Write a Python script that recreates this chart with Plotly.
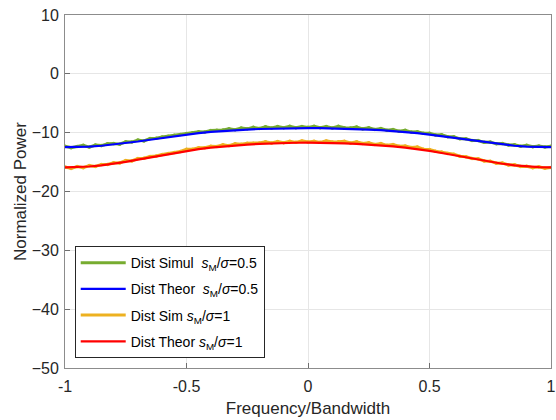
import numpy as np
import plotly.graph_objects as go

# Theoretical curves, x step 0.05 from -1 to 1
theor_x = np.linspace(-1, 1, 41)
theor_05 = [-12.45, -12.43, -12.36, -12.22, -12.02, -11.78, -11.5, -11.2, -10.9, -10.6,
            -10.32, -10.08, -9.88, -9.72, -9.58, -9.47, -9.38, -9.32, -9.27, -9.24,
            -9.23,
            -9.24, -9.27, -9.32, -9.38, -9.47, -9.58, -9.72, -9.88, -10.08, -10.32,
            -10.6, -10.9, -11.2, -11.5, -11.78, -12.02, -12.22, -12.36, -12.43, -12.45]
theor_1 = [-15.9, -15.87, -15.75, -15.55, -15.28, -14.95, -14.58, -14.2, -13.82, -13.45,
           -13.1, -12.8, -12.55, -12.34, -12.16, -12.02, -11.9, -11.81, -11.75, -11.71,
           -11.7,
           -11.71, -11.75, -11.81, -11.9, -12.02, -12.16, -12.34, -12.55, -12.8, -13.1,
           -13.45, -13.82, -14.2, -14.58, -14.95, -15.28, -15.55, -15.75, -15.87, -15.9]

# Simulated curves (noisy), x step 0.025
sim_05 = [-12.3, -12.55, -12.35, -12.15, -12.45, -12.1, -12.2, -11.9, -11.85, -11.95,
          -11.55, -11.6, -11.25, -11.4, -11.0, -10.95, -10.75, -10.6, -10.45, -10.3,
          -10.15, -10.0, -9.85, -9.9, -9.65, -9.6, -9.55, -9.35, -9.5, -9.2,
          -9.35, -9.1, -9.3, -9.0, -9.2, -8.95, -9.15, -8.9, -9.15, -8.95,
          -9.1,
          -8.9, -9.15, -8.95, -9.2, -8.9, -9.15, -9.2, -9.05, -9.35, -9.15,
          -9.45, -9.3, -9.6, -9.45, -9.75, -9.6, -9.9, -9.85, -10.1, -10.1,
          -10.4, -10.35, -10.7, -10.7, -11.05, -11.05, -11.35, -11.35, -11.65, -11.6,
          -11.9, -11.85, -12.1, -12.05, -12.3, -12.15, -12.4, -12.25, -12.45, -12.3]
sim_1 = [-15.85, -16.1, -15.75, -15.95, -15.6, -15.75, -15.4, -15.4, -15.1, -15.15,
         -14.75, -14.8, -14.4, -14.35, -14.05, -13.95, -13.7, -13.55, -13.35, -13.2,
         -12.8, -12.8, -12.55, -12.55, -12.3, -12.35, -12.05, -12.2, -11.9, -11.95,
         -11.8, -11.8, -11.75, -11.55, -11.75, -11.5, -11.7, -11.45, -11.65, -11.4,
         -11.6,
         -11.45, -11.65, -11.4, -11.6, -11.55, -11.45, -11.75, -11.55, -11.85, -11.7,
         -12.0, -11.85, -12.15, -12.0, -12.3, -12.25, -12.5, -12.45, -12.8, -12.85,
         -13.15, -13.3, -13.55, -13.65, -14.0, -14.1, -14.4, -14.45, -14.8, -14.85,
         -15.2, -15.15, -15.5, -15.45, -15.75, -15.7, -15.95, -15.8, -16.05, -15.9]
sim_x = np.linspace(-1, 1, len(sim_05))

names = ["Dist Simul  <i>s</i><sub>M</sub>/<i>σ</i>=0.5",
         "Dist Theor  <i>s</i><sub>M</sub>/<i>σ</i>=0.5",
         "Dist Sim <i>s</i><sub>M</sub>/<i>σ</i>=1",
         "Dist Theor <i>s</i><sub>M</sub>/<i>σ</i>=1"]

x_ticks = [-1, -0.5, 0, 0.5, 1]
x_labels = ["-1", "-0.5", "0", "0.5", "1"]
y_ticks = [10, 0, -10, -20, -30, -40, -50]

GREEN, BLUE, ORANGE, RED = "#77AC30", "#0000FF", "#EDB120", "#FF0000"

fig = go.Figure()
fig.add_trace(go.Scatter(x=sim_x, y=sim_05, mode="lines", name=names[0],
                         legendgroup="a", line=dict(color=GREEN, width=3)))
fig.add_trace(go.Scatter(x=sim_x, y=sim_05, mode="markers", showlegend=False,
                         legendgroup="a", marker=dict(color=GREEN, size=3.5)))
fig.add_trace(go.Scatter(x=theor_x, y=theor_05, mode="lines", name=names[1],
                         legendgroup="b", line=dict(color=BLUE, width=2.2)))
fig.add_trace(go.Scatter(x=sim_x, y=sim_1, mode="lines", name=names[2],
                         legendgroup="c", line=dict(color=ORANGE, width=3)))
fig.add_trace(go.Scatter(x=sim_x, y=sim_1, mode="markers", showlegend=False,
                         legendgroup="c", marker=dict(color=ORANGE, size=3.5)))
fig.add_trace(go.Scatter(x=theor_x, y=theor_1, mode="lines", name=names[3],
                         legendgroup="d", line=dict(color=RED, width=2.2)))

axis_common = dict(showline=True, linecolor="#8c8c8c", linewidth=1, mirror=True,
                   ticks="inside", ticklen=5, tickcolor="#6e6e6e",
                   showgrid=True, gridcolor="#E6E6E6", gridwidth=1, zeroline=False,
                   tickfont=dict(size=16, color="#262626"),
                   ticklabeloverflow="allow")

fig.update_layout(
    width=556, height=420,
    margin=dict(l=65, r=0, t=15, b=52),
    paper_bgcolor="white", plot_bgcolor="white",
    font=dict(family="Arial, Liberation Sans, sans-serif", color="#262626"),
    xaxis=dict(range=[-1, 1], tickvals=x_ticks, ticktext=x_labels,
               ticklabelstandoff=4,
               title=dict(text="Frequency/Bandwidth", font=dict(size=17), standoff=7),
               **axis_common),
    yaxis=dict(range=[-50, 10], tickvals=y_ticks,
               ticklabelstandoff=2,
               title=dict(text="Normalized Power", font=dict(size=17), standoff=0),
               **axis_common),
    legend=dict(x=0.02, y=0.028, xanchor="left", yanchor="bottom",
                bgcolor="white", bordercolor="#262626", borderwidth=1,
                font=dict(size=14, color="#000000"), tracegroupgap=5,
                itemwidth=45),
    showlegend=True,
)

fig.write_html("out.html")
